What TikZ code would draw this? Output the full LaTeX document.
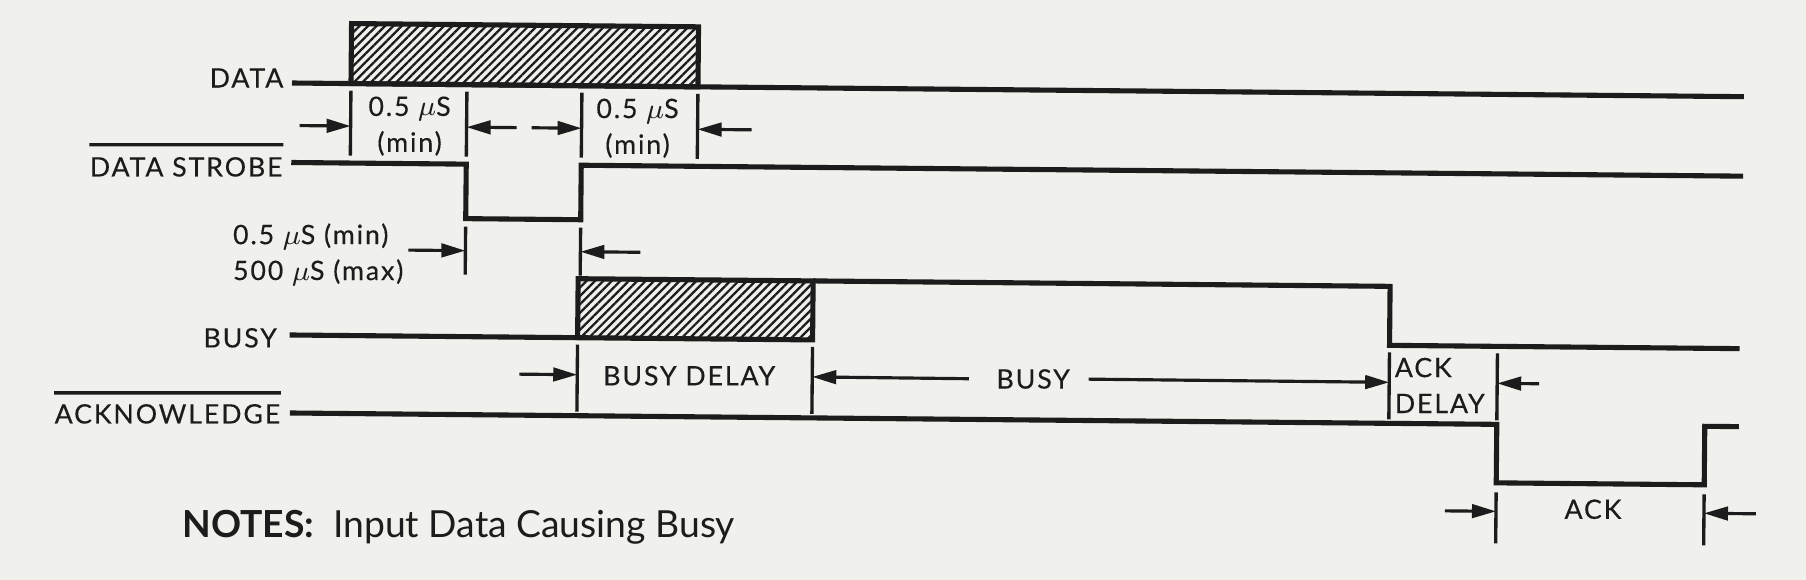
\documentclass[tikz,border=0pt]{standalone}
\usepackage{fontspec}
\setmainfont{Lato}
\newfontfamily\sigfont[LetterSpace=7,FakeBold=0.3]{Lato}
\usetikzlibrary{arrows.meta,patterns.meta,positioning}
\definecolor{Paper}{HTML}{F0F0EC}
\definecolor{Ink}{HTML}{1C1C1C}

\tikzset{
  signal/.style={draw=Ink,line width=1.45pt,line join=miter},
  tickline/.style={draw=Ink,line width=0.95pt},
  dimarrow/.style={draw=Ink,line width=0.9pt,-{Triangle[length=2.4mm,width=1.35mm]}},
  hatched/.style={signal,pattern={Lines[angle=45,distance=1.7pt,line width=0.65pt]},pattern color=Ink},
  siglabel/.style={text=Ink,inner sep=0pt,anchor=east},
  note/.style={text=Ink,inner sep=0pt,align=center}
}

\begin{document}
\begin{tikzpicture}[x=0.01cm,y=-0.01cm,font=\sigfont\fontsize{7.6}{10.2}\selectfont]
  %--- paper ---
  \fill[Paper] (0,0) rectangle (1806,580);
  \useasboundingbox (0,0) rectangle (1806,580);

  \begin{scope}[rotate around={-0.54:(290,83)}]
  %--- signal names ---
  \node[siglabel] (data)   at (284,78)  {DATA};
  \node[siglabel] (strobe) at (284,167) {DATA STROBE};
  \node[siglabel] (busy)   at (280,338) {BUSY};
  \node[siglabel] (ack)    at (284,414) {ACKNOWLEDGE};
  \draw[tickline] ([yshift=3.3pt]strobe.north west) -- ([yshift=3.3pt]strobe.north east); % active low
  \draw[tickline] ([yshift=3pt]ack.north west) -- ([yshift=3pt]ack.north east);

  %--- DATA ---
  \draw[hatched] (351,83) rectangle (698,23);
  \draw[signal] (292,83) -- (1744,83);
  %--- DATA STROBE ---
  \draw[signal] (292,162.5) -| (467,217) -| (582,162.5) -- (1744,162.5);
  %--- BUSY ---
  \draw[hatched] (580,335) rectangle (815,276);
  \draw[signal] (292,335) -- (580,335);
  \draw[signal] (815,276) -| (1392,335) -- (1742,335);
  %--- ACKNOWLEDGE ---
  \draw[signal] (293,413) -| (1500,471.5) -| (1708,413) -- (1742,413);

  %--- timing marks ---
  \foreach \x in {351,467,582,698} \draw[tickline] (\x,90) -- (\x,155);
  \foreach \x in {467,582} \draw[tickline] (\x,225) -- (\x,273);
  \foreach \x in {580,815,1392,1500} \draw[tickline] (\x,342) -- (\x,409);
  \foreach \x in {1500,1708} \draw[tickline] (\x,481) -- (\x,532);

  \node[note] (setup) at (410,125) {0.5 $\mu$S\\(min)};
  \node[note] (hold)  at (638,125) {0.5 $\mu$S\\(min)};
  \node[note,align=left,anchor=west] (pulse) at (234,255) {0.5 $\mu$S (min)\\500 $\mu$S (max)};
  \node[note] (bdelay) at (692,372) {BUSY DELAY};
  \node[note] (btime)  at (1036,372) {BUSY};
  \node[note,align=left,anchor=west] (adelay) at (1397,375) {ACK\\DELAY};
  \node[note] (atime)  at (1597,497) {ACK};

  \draw[dimarrow] (300,125.5) -- (351,125.5);
  \draw[dimarrow] (517,125.5) -- (467,125.5);
  \draw[dimarrow] (532,125.5) -- (582,125.5);
  \draw[dimarrow] (752,125.5) -- (698,125.5);
  \draw[dimarrow] (410,249) -- (467,249);
  \draw[dimarrow] (642,249) -- (582,249);
  \draw[dimarrow] (522,372) -- (580,372);
  \draw[dimarrow] ([xshift=-2.7mm]btime.west) -- (815,372);
  \draw[dimarrow] ([xshift=1.8mm]btime.east) -- (1392,372);
  \draw[dimarrow] (1542,372) -- (1500,372);
  \draw[dimarrow] (1449,500) -- (1500,500);
  \draw[dimarrow] (1760,500) -- (1708,500);

  %--- caption ---
  \node[anchor=base west,inner sep=0pt,text=Ink,font=\fontsize{10.6}{12}\selectfont] (notes) at (186,539) {\textbf{NOTES:}\ \ Input Data Causing Busy};
  \end{scope}
\end{tikzpicture}
\end{document}
